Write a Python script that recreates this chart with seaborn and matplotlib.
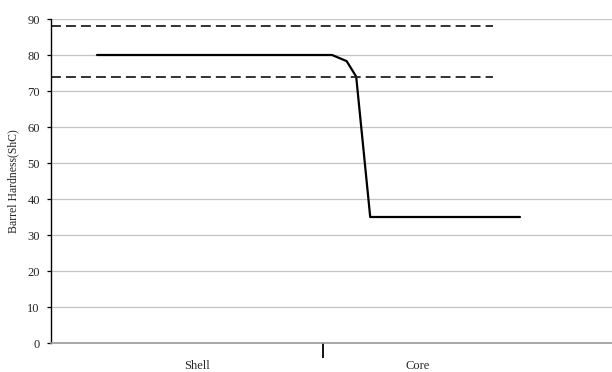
import matplotlib
matplotlib.use("Agg")
import matplotlib.pyplot as plt
import seaborn as sns
import pandas as pd

# Data
depth = [0.082, 0.501, 0.527, 0.544, 0.569, 0.836]
hardness = [80, 80, 78.3, 74, 35, 35]
limit_x = [0.0, 0.788]
upper_limit = [88, 88]
lower_limit = [74, 74]
zone_labels = ["Shell", "Core"]
zone_label_pos = [0.26, 0.654]
zone_boundary = 0.485
y_ticks = [0, 10, 20, 30, 40, 50, 60, 70, 80, 90]

sns.set_theme(style="white")
plt.rcParams['font.family'] = ['Liberation Serif', 'DejaVu Serif']

fig = plt.figure(figsize=(6.12, 3.72), dpi=100)
ax = fig.add_axes([51/612, 29/372, 561/612, 324/372])

for yv in y_ticks[1:]:
    ax.axhline(yv, color="#c4c4c4", lw=0.9, zorder=0)

df = pd.DataFrame({"depth": depth, "hardness": hardness})
sns.lineplot(data=df, x="depth", y="hardness", ax=ax, color="black", lw=1.6,
             sort=False, estimator=None)
up = pd.DataFrame({"x": limit_x, "y": upper_limit})
lo = pd.DataFrame({"x": limit_x, "y": lower_limit})
for d in (up, lo):
    sns.lineplot(data=d, x="x", y="y", ax=ax, color="#222222", lw=1.3,
                 dashes=False, estimator=None)
for line in ax.get_lines()[-2:]:
    line.set_dashes((5.5, 2.8))

ax.set_xlim(0, 1)
ax.set_ylim(0, 90)
ax.set_yticks(y_ticks)
ax.set_yticklabels([str(v) for v in y_ticks], fontsize=9)
ax.tick_params(axis="y", which="major", length=3, width=0.9, color="black",
               left=True, pad=5)

ax.set_xticks([zone_boundary])
ax.set_xticklabels([""])
ax.tick_params(axis="x", which="major", length=10.5, width=1.3, color="black",
               bottom=True, direction="out")
ax.set_xticks(zone_label_pos, minor=True)
ax.set_xticklabels(zone_labels, minor=True, fontsize=9)
ax.tick_params(axis="x", which="minor", length=0, pad=12)

ax.set_xlabel("")
ax.set_ylabel("Barrel Hardness(ShC)", fontsize=8.5, labelpad=6)

for s in ["top", "right"]:
    ax.spines[s].set_visible(False)
ax.spines["left"].set_color("black")
ax.spines["left"].set_linewidth(1.0)
ax.spines["bottom"].set_color("#9a9a9a")
ax.spines["bottom"].set_linewidth(1.2)

fig.savefig("out.png", dpi=100)
